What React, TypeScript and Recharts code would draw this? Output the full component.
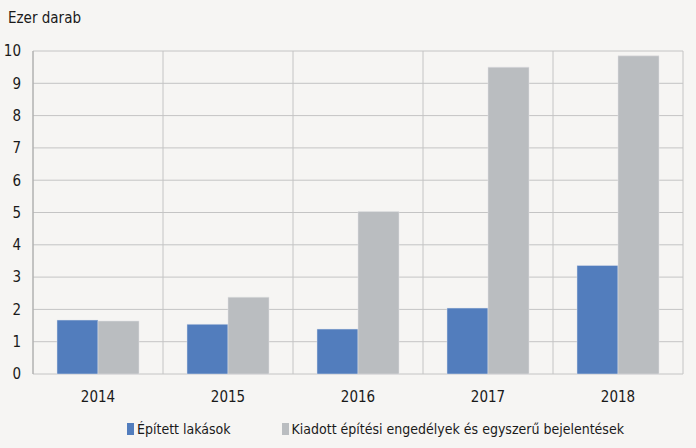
import React from 'react';
import { BarChart, Bar, XAxis, YAxis, CartesianGrid, Legend } from 'recharts';

const years = ['2014', '2015', '2016', '2017', '2018'];
const builtHomes = [1.67, 1.54, 1.39, 2.04, 3.36];
const permits = [1.64, 2.38, 5.03, 9.5, 9.85];
const yTicks = [0, 1, 2, 3, 4, 5, 6, 7, 8, 9, 10];
const boundaryTicks = [0, 1, 2, 3, 4, 5];

const SERIES_BUILT = 'Épített lakások';
const SERIES_PERMITS = 'Kiadott építési engedélyek és egyszerű bejelentések';

const FONT = '"DejaVu Sans Condensed", "DejaVu Sans", sans-serif';
const BLUE = '#527dbd';
const GRAY = '#babdc0';

const data = years.map((year, i) => ({
  year,
  idx: i + 0.5,
  built: builtHomes[i],
  permits: permits[i],
}));

const LegendContent = () => (
  <div style={{ display: 'flex', whiteSpace: 'nowrap', paddingLeft: 127, paddingTop: 17, fontSize: 14, color: '#1a1a1a', fontFamily: FONT, fontStretch: 'condensed' }}>
    <div style={{ display: 'flex', alignItems: 'center', marginRight: 51 }}>
      <span style={{ display: 'inline-block', width: 7, height: 12, background: BLUE, marginRight: 3 }} />
      <span>{SERIES_BUILT}</span>
    </div>
    <div style={{ display: 'flex', alignItems: 'center' }}>
      <span style={{ display: 'inline-block', width: 7, height: 12, background: GRAY, marginRight: 3 }} />
      <span>{SERIES_PERMITS}</span>
    </div>
  </div>
);

export default function App() {
  return (
    <div style={{ position: 'absolute', left: 0, top: 0, width: 696, height: 448, background: '#f6f5f3', fontFamily: FONT, fontStretch: 'condensed' }}>
      <div style={{ position: 'absolute', left: 8, top: 9, fontSize: 15, color: '#1a1a1a' }}>Ezer darab</div>
      <BarChart
        width={696}
        height={448}
        data={data}
        margin={{ top: 51, right: 13, left: 0, bottom: 0 }}
        barCategoryGap={24}
        barGap={0}
      >
        <CartesianGrid xAxisId="num" stroke="#c4c4c4" strokeWidth={1} />
        <XAxis
          xAxisId="num"
          type="number"
          dataKey="idx"
          domain={[0, 5]}
          ticks={boundaryTicks}
          height={0}
          axisLine={{ stroke: '#808080', strokeWidth: 2 }}
          tickLine={{ stroke: '#808080', strokeWidth: 2 }}
          tickSize={7}
          tickFormatter={() => ''}
        />
        <XAxis
          xAxisId="cat"
          dataKey="year"
          height={30}
          axisLine={false}
          tickLine={false}
          tickSize={0}
          tickMargin={17}
          tick={{ fontSize: 15, fill: '#1a1a1a', fontFamily: FONT }}
        />
        <YAxis
          width={33}
          domain={[0, 10]}
          ticks={yTicks}
          interval={0}
          axisLine={{ stroke: '#a8a8a8', strokeWidth: 1 }}
          tickLine={false}
          tickSize={0}
          tickMargin={12}
          tick={{ fontSize: 15, fill: '#1a1a1a', fontFamily: FONT }}
        />
        <Legend verticalAlign="bottom" height={44} content={<LegendContent />} />
        <Bar xAxisId="cat" dataKey="built" name={SERIES_BUILT} fill={BLUE} stroke="#dfe3ea" strokeWidth={0.5} isAnimationActive={false} />
        <Bar xAxisId="cat" dataKey="permits" name={SERIES_PERMITS} fill={GRAY} stroke="#e2e3e4" strokeWidth={0.5} isAnimationActive={false} />
      </BarChart>
    </div>
  );
}
